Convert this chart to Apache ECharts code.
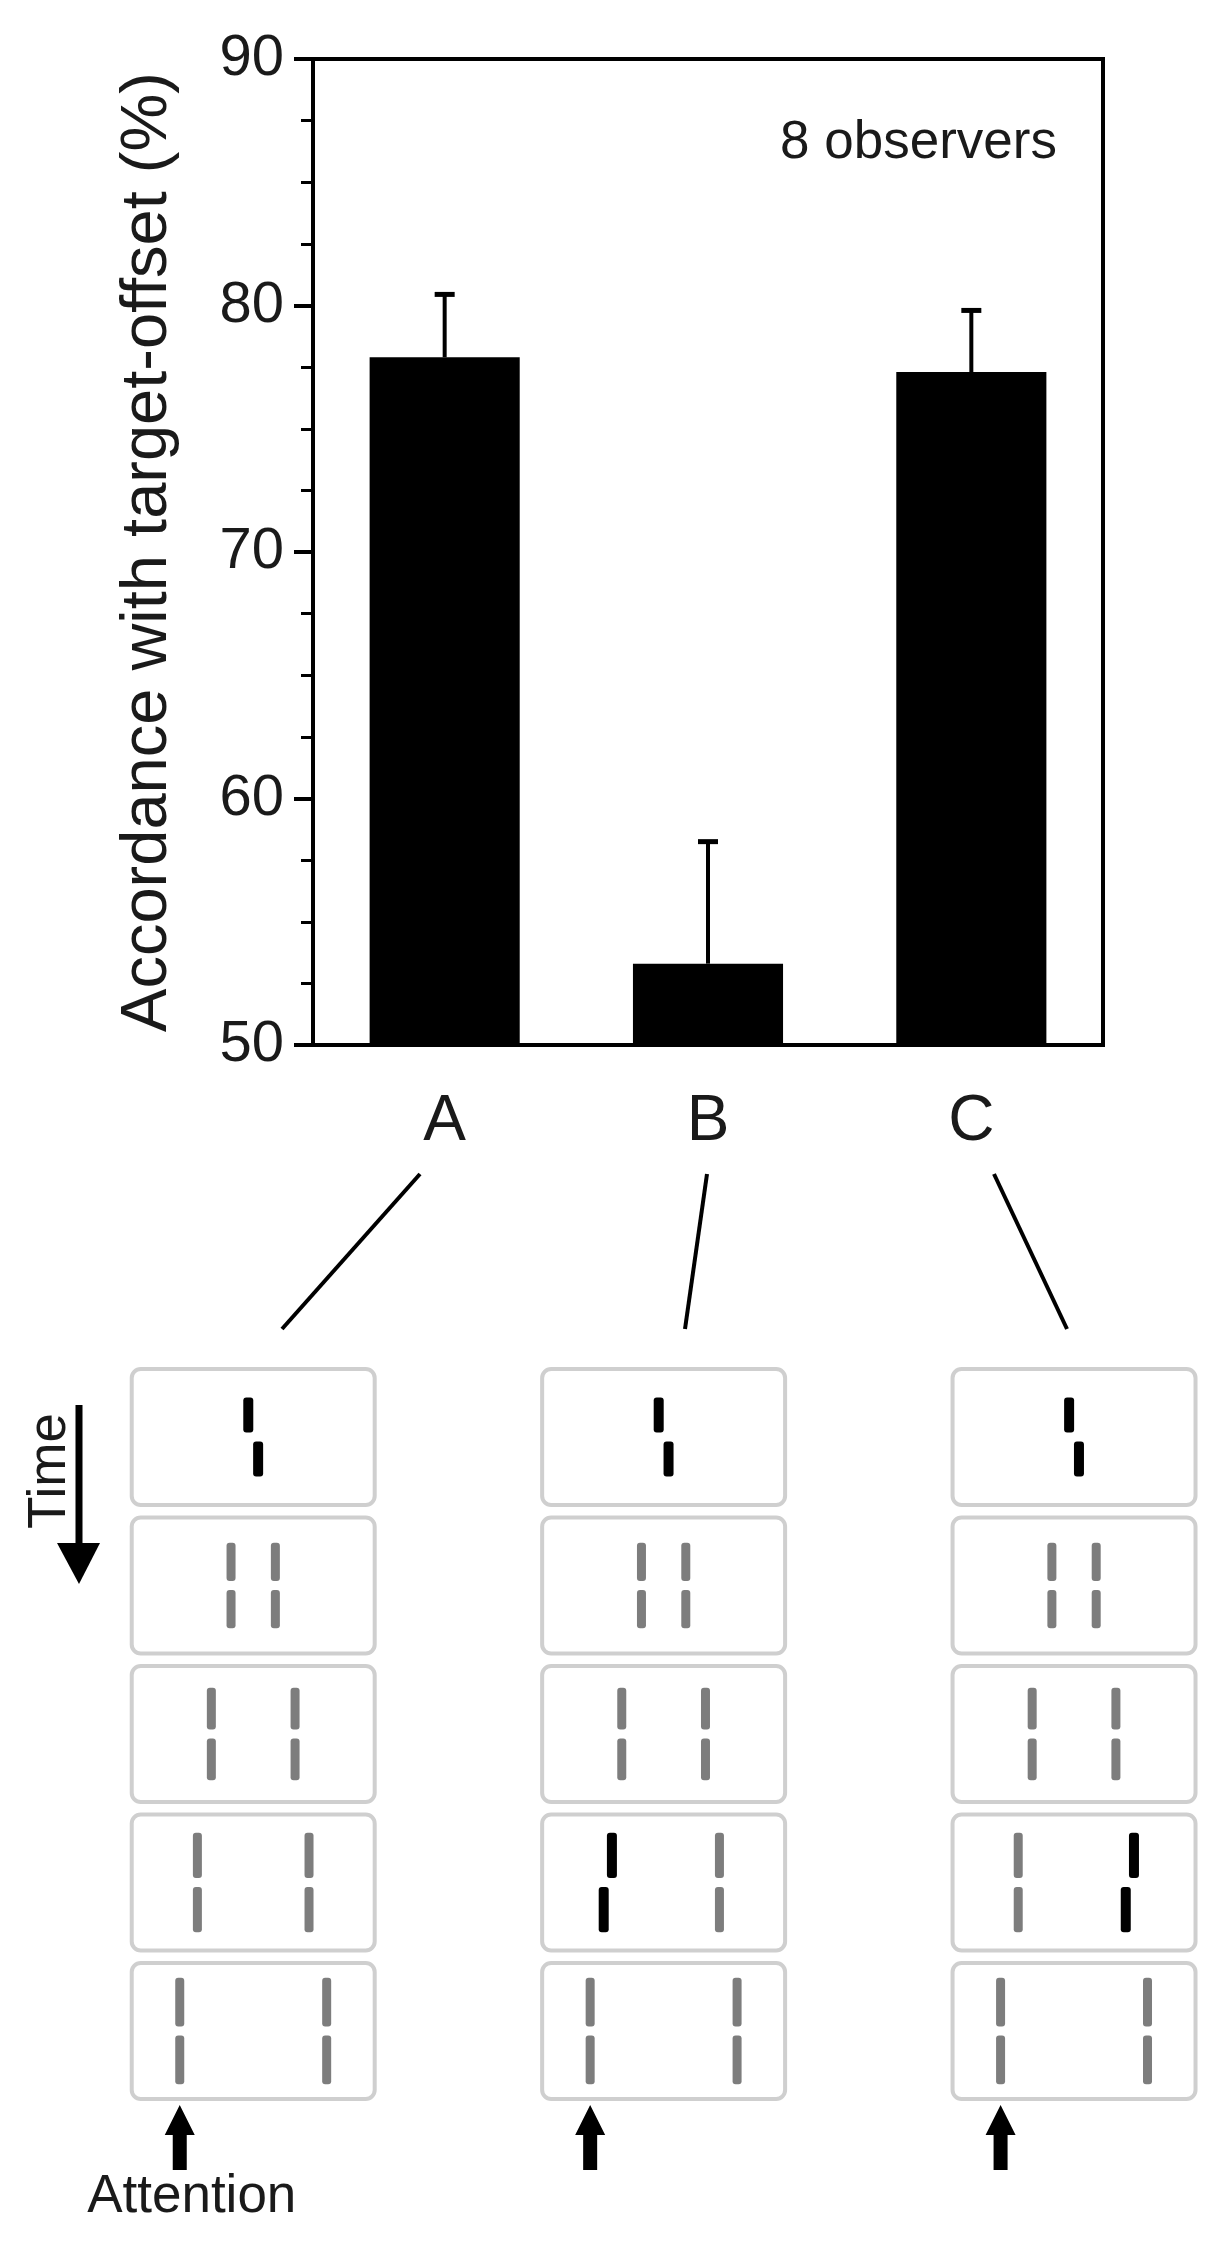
<!DOCTYPE html>
<html>
<head>
<meta charset="utf-8">
<title>Accordance with target-offset</title>
<script src="https://cdn.jsdelivr.net/npm/echarts@6/dist/echarts.min.js"></script>
<style>
  html, body { margin: 0; padding: 0; background: #fff; }
  #chart { width: 1230px; height: 2244px; }
</style>
</head>
<body>
<div id="chart"></div>
<script>
// bar chart values
const categories = ['A', 'B', 'C'];
const accordance = [77.9, 53.3, 77.3]; // mean %
const sem = [2.55, 4.95, 2.5]; // upper error bar
const yTicks = [50, 60, 70, 80, 90];

// stimulus sketch below the bars (5 frames per condition, top = first)
const frames = [1, 2, 3, 4, 5];
const halfSep = [0, 0.54, 1.02, 1.36, 1.79]; // distance of the flanking pairs from centre
const stemLen = [0.85, 0.93, 1.02, 1.10, 1.19]; // length of one line segment
const targetSide = [0, -1, 1]; // where the 2nd vernier sits in frame 4 (0 = none)
const columnPos = [0, 10, 20]; // sketch column of each condition

const FONT = '"Liberation Sans", Arial, Helvetica, sans-serif';
const chart = echarts.init(document.getElementById('chart'));

const errData = categories.map((c, i) => [i, accordance[i], sem[i]]);
const sketchData = [];
columnPos.forEach((x, c) => {
  frames.forEach((f, k) => sketchData.push([x, f, c, k]));
});

function stemRect(x, y1, y2, w, color) {
  return {
    type: 'rect',
    shape: { x: x - w / 2, y: y1, width: w, height: y2 - y1, r: 3 },
    style: { fill: color }
  };
}

function renderSketch(params, api) {
  const c = api.value(2);
  const k = api.value(3);
  const p = api.coord([api.value(0), api.value(1)]);
  const hw = api.size([2.96, 0])[0];
  const bh = api.size([0, 0.916])[1];
  const len = api.size([stemLen[k], 0])[0];
  const sep = api.size([halfSep[k], 0])[0];
  const gap = 9;
  const yTop1 = p[1] - gap / 2 - len, yTop2 = p[1] - gap / 2;
  const yBot1 = p[1] + gap / 2, yBot2 = p[1] + gap / 2 + len;
  const children = [{
    type: 'rect',
    shape: { x: p[0] - hw, y: p[1] - bh / 2, width: hw * 2, height: bh, r: 9 },
    style: { fill: '#fff', stroke: '#cfcfcf', lineWidth: 4 }
  }];
  if (k === 0) {
    const v = api.size([0.12, 0])[0];
    children.push(stemRect(p[0] - v, yTop1, yTop2, 10, '#000'));
    children.push(stemRect(p[0] + v, yBot1, yBot2, 10, '#000'));
  } else {
    [-1, 1].forEach(side => {
      const x = p[0] + side * sep;
      if (k === 3 && targetSide[c] === side) {
        const v = api.size([0.1, 0])[0];
        children.push(stemRect(x + v, yTop1, yTop2, 10, '#000'));
        children.push(stemRect(x - v, yBot1, yBot2, 10, '#000'));
      } else {
        children.push(stemRect(x, yTop1, yTop2, 9, '#7d7d7d'));
        children.push(stemRect(x, yBot1, yBot2, 9, '#7d7d7d'));
      }
    });
  }
  if (k === frames.length - 1) {
    // attention arrow under the left pair
    const ax = p[0] - sep;
    const tip = p[1] + bh / 2 + 6;
    children.push({
      type: 'polygon',
      shape: { points: [[ax, tip], [ax + 15, tip + 30], [ax + 7, tip + 30], [ax + 7, tip + 65],
        [ax - 7, tip + 65], [ax - 7, tip + 30], [ax - 15, tip + 30]] },
      style: { fill: '#000' }
    });
    if (c === 0) {
      children.push({
        type: 'text',
        style: { x: ax + 12, y: tip + 92, text: 'Attention', font: '53px ' + FONT,
          fill: '#1a1a1a', align: 'center', verticalAlign: 'middle' }
      });
    }
  }
  return { type: 'group', children: children };
}

const option = {
  backgroundColor: '#fff',
  animation: false,
  grid: [
    { left: 313, top: 59, width: 790, height: 986, show: true, borderColor: '#000', borderWidth: 4 },
    { left: 48, right: 0, top: 1362.75, height: 742.5 }
  ],
  xAxis: [
    {
      type: 'category',
      gridIndex: 0,
      data: categories,
      boundaryGap: true,
      axisLine: { lineStyle: { color: '#000', width: 4 } },
      axisTick: { alignWithLabel: true, inside: false, length: 25, lineStyle: { color: '#000', width: 4 } },
      axisLabel: { fontSize: 64, fontFamily: FONT, color: '#1a1a1a', margin: 45 }
    },
    { type: 'value', gridIndex: 1, min: -5, max: 23.8, show: false }
  ],
  yAxis: [
    {
      type: 'value',
      gridIndex: 0,
      min: 50,
      max: 90,
      interval: 10,
      name: 'Accordance with target-offset (%)',
      nameLocation: 'middle',
      nameRotate: 90,
      nameGap: 132,
      nameTextStyle: { fontSize: 65, fontFamily: FONT, color: '#1a1a1a' },
      axisLine: { show: true, lineStyle: { color: '#000', width: 4 } },
      axisTick: { show: true, length: 19, lineStyle: { color: '#000', width: 4 } },
      minorTick: { show: true, splitNumber: 4, length: 12, lineStyle: { color: '#000', width: 3 } },
      splitLine: { show: false },
      axisLabel: {
        fontSize: 58, fontFamily: FONT, color: '#1a1a1a', margin: 29,
        formatter: v => (yTicks.indexOf(v) >= 0 ? String(v) : '')
      }
    },
    { type: 'value', gridIndex: 1, min: 0.5, max: 5.5, inverse: true, show: false }
  ],
  series: [
    {
      type: 'bar',
      xAxisIndex: 0,
      yAxisIndex: 0,
      data: accordance,
      barWidth: '57%',
      itemStyle: { color: '#000' }
    },
    {
      type: 'custom',
      xAxisIndex: 0,
      yAxisIndex: 0,
      z: 5,
      data: errData,
      renderItem: function (params, api) {
        const base = api.coord([api.value(0), api.value(1)]);
        const top = api.coord([api.value(0), api.value(1) + api.value(2)]);
        return {
          type: 'group',
          children: [
            { type: 'line', shape: { x1: base[0], y1: base[1], x2: top[0], y2: top[1] },
              style: { stroke: '#000', lineWidth: 4 } },
            { type: 'line', shape: { x1: top[0] - 10, y1: top[1], x2: top[0] + 10, y2: top[1] },
              style: { stroke: '#000', lineWidth: 5 } }
          ]
        };
      }
    },
    {
      type: 'custom',
      xAxisIndex: 1,
      yAxisIndex: 1,
      data: sketchData,
      encode: { x: 0, y: 1 },
      renderItem: renderSketch
    }
  ],
  graphic: [
    { type: 'text', style: { x: 1057, y: 143, text: '8 observers', font: '53px ' + FONT,
      fill: '#1a1a1a', align: 'right', verticalAlign: 'middle' } },
    // leader lines from condition labels to the sketches
    { type: 'line', shape: { x1: 420, y1: 1174, x2: 282, y2: 1329 }, style: { stroke: '#000', lineWidth: 4 } },
    { type: 'line', shape: { x1: 707, y1: 1174, x2: 685, y2: 1329 }, style: { stroke: '#000', lineWidth: 4 } },
    { type: 'line', shape: { x1: 994, y1: 1174, x2: 1067, y2: 1329 }, style: { stroke: '#000', lineWidth: 4 } },
    // time arrow
    { type: 'line', shape: { x1: 79, y1: 1405, x2: 79, y2: 1550 }, style: { stroke: '#000', lineWidth: 7 } },
    { type: 'polygon', shape: { points: [[57, 1543], [100, 1543], [79, 1584]] }, style: { fill: '#000' } },
    { type: 'text', x: 50, y: 1471, rotation: Math.PI / 2,
      style: { x: 0, y: 0, text: 'Time', font: '53px ' + FONT, fill: '#1a1a1a', align: 'center', verticalAlign: 'middle' } }
  ]
};

chart.setOption(option);
</script>
</body>
</html>
